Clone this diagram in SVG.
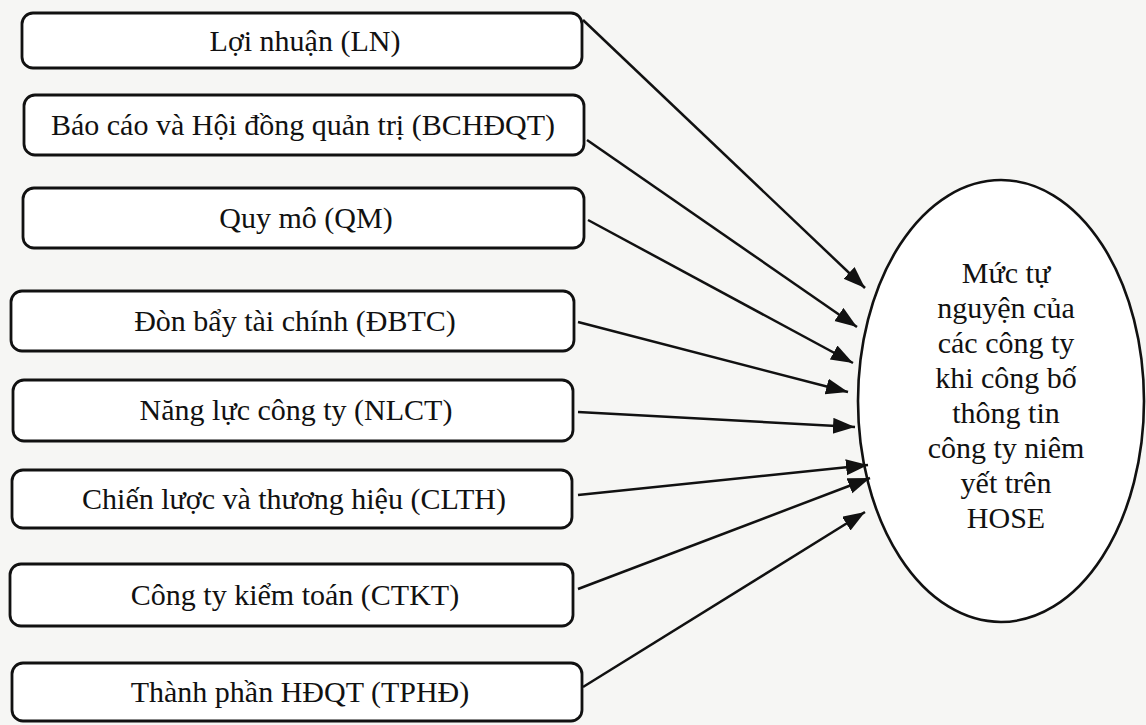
<svg xmlns="http://www.w3.org/2000/svg" width="1146" height="725" viewBox="0 0 1146 725">
  <style>
    .box { fill: #ffffff; stroke: #111111; stroke-width: 2.8; }
    .lbl { font-family: "Liberation Serif", "Times New Roman", serif; font-size: 30px; fill: #111111; text-anchor: middle; }
    .conn { stroke: #111111; stroke-width: 2.5; fill: none; marker-end: url(#arrow); }
    .oval { fill: #ffffff; stroke: #111111; stroke-width: 2.6; }
  </style>
  <defs>
    <marker id="arrow" markerUnits="userSpaceOnUse" markerWidth="24" markerHeight="18" refX="22" refY="8" orient="auto">
      <path d="M0,0 L22,8 L0,16 z" fill="#111111"/>
    </marker>
  </defs>
  <rect x="0" y="0" width="1146" height="725" fill="#f6f6f4"/>

  <g id="node-ln">
    <rect class="box" x="22" y="13" width="560" height="55" rx="11"/>
    <text class="lbl" x="305" y="51">Lợi nhuận (LN)</text>
  </g>
  <g id="node-bchdqt">
    <rect class="box" x="24" y="95" width="560" height="60" rx="11"/>
    <text class="lbl" x="303" y="135">Báo cáo và Hội đồng quản trị (BCHĐQT)</text>
  </g>
  <g id="node-qm">
    <rect class="box" x="23" y="188" width="561" height="60" rx="11"/>
    <text class="lbl" x="306" y="228">Quy mô (QM)</text>
  </g>
  <g id="node-dbtc">
    <rect class="box" x="11" y="291" width="563" height="60" rx="11"/>
    <text class="lbl" x="295" y="331">Đòn bẩy tài chính (ĐBTC)</text>
  </g>
  <g id="node-nlct">
    <rect class="box" x="13" y="380" width="560" height="61" rx="11"/>
    <text class="lbl" x="296" y="420">Năng lực công ty (NLCT)</text>
  </g>
  <g id="node-clth">
    <rect class="box" x="12" y="470" width="560" height="58" rx="11"/>
    <text class="lbl" x="294" y="509">Chiến lược và thương hiệu (CLTH)</text>
  </g>
  <g id="node-ctkt">
    <rect class="box" x="10" y="564" width="563" height="62" rx="11"/>
    <text class="lbl" x="295" y="605">Công ty kiểm toán (CTKT)</text>
  </g>
  <g id="node-tphd">
    <rect class="box" x="12" y="663" width="570" height="58" rx="11"/>
    <text class="lbl" x="300" y="702">Thành phần HĐQT (TPHĐ)</text>
  </g>

  <g id="node-target">
    <ellipse class="oval" cx="1001" cy="401" rx="143" ry="221"/>
    <text class="lbl" x="1006" y="283">Mức tự</text>
    <text class="lbl" x="1006" y="318">nguyện của</text>
    <text class="lbl" x="1006" y="353">các công ty</text>
    <text class="lbl" x="1006" y="388">khi công bố</text>
    <text class="lbl" x="1006" y="423">thông tin</text>
    <text class="lbl" x="1006" y="458">công ty niêm</text>
    <text class="lbl" x="1006" y="493">yết trên</text>
    <text class="lbl" x="1006" y="528">HOSE</text>
  </g>

  <g id="connectors">
    <line class="conn" x1="583" y1="20" x2="865" y2="288"/>
    <line class="conn" x1="587" y1="140" x2="857" y2="327"/>
    <line class="conn" x1="588" y1="220" x2="853" y2="363"/>
    <line class="conn" x1="578" y1="322" x2="848" y2="392"/>
    <line class="conn" x1="578" y1="412" x2="855" y2="427"/>
    <line class="conn" x1="578" y1="495" x2="868" y2="465"/>
    <line class="conn" x1="578" y1="589" x2="870" y2="478"/>
    <line class="conn" x1="583" y1="687" x2="865" y2="512"/>
  </g>
</svg>
